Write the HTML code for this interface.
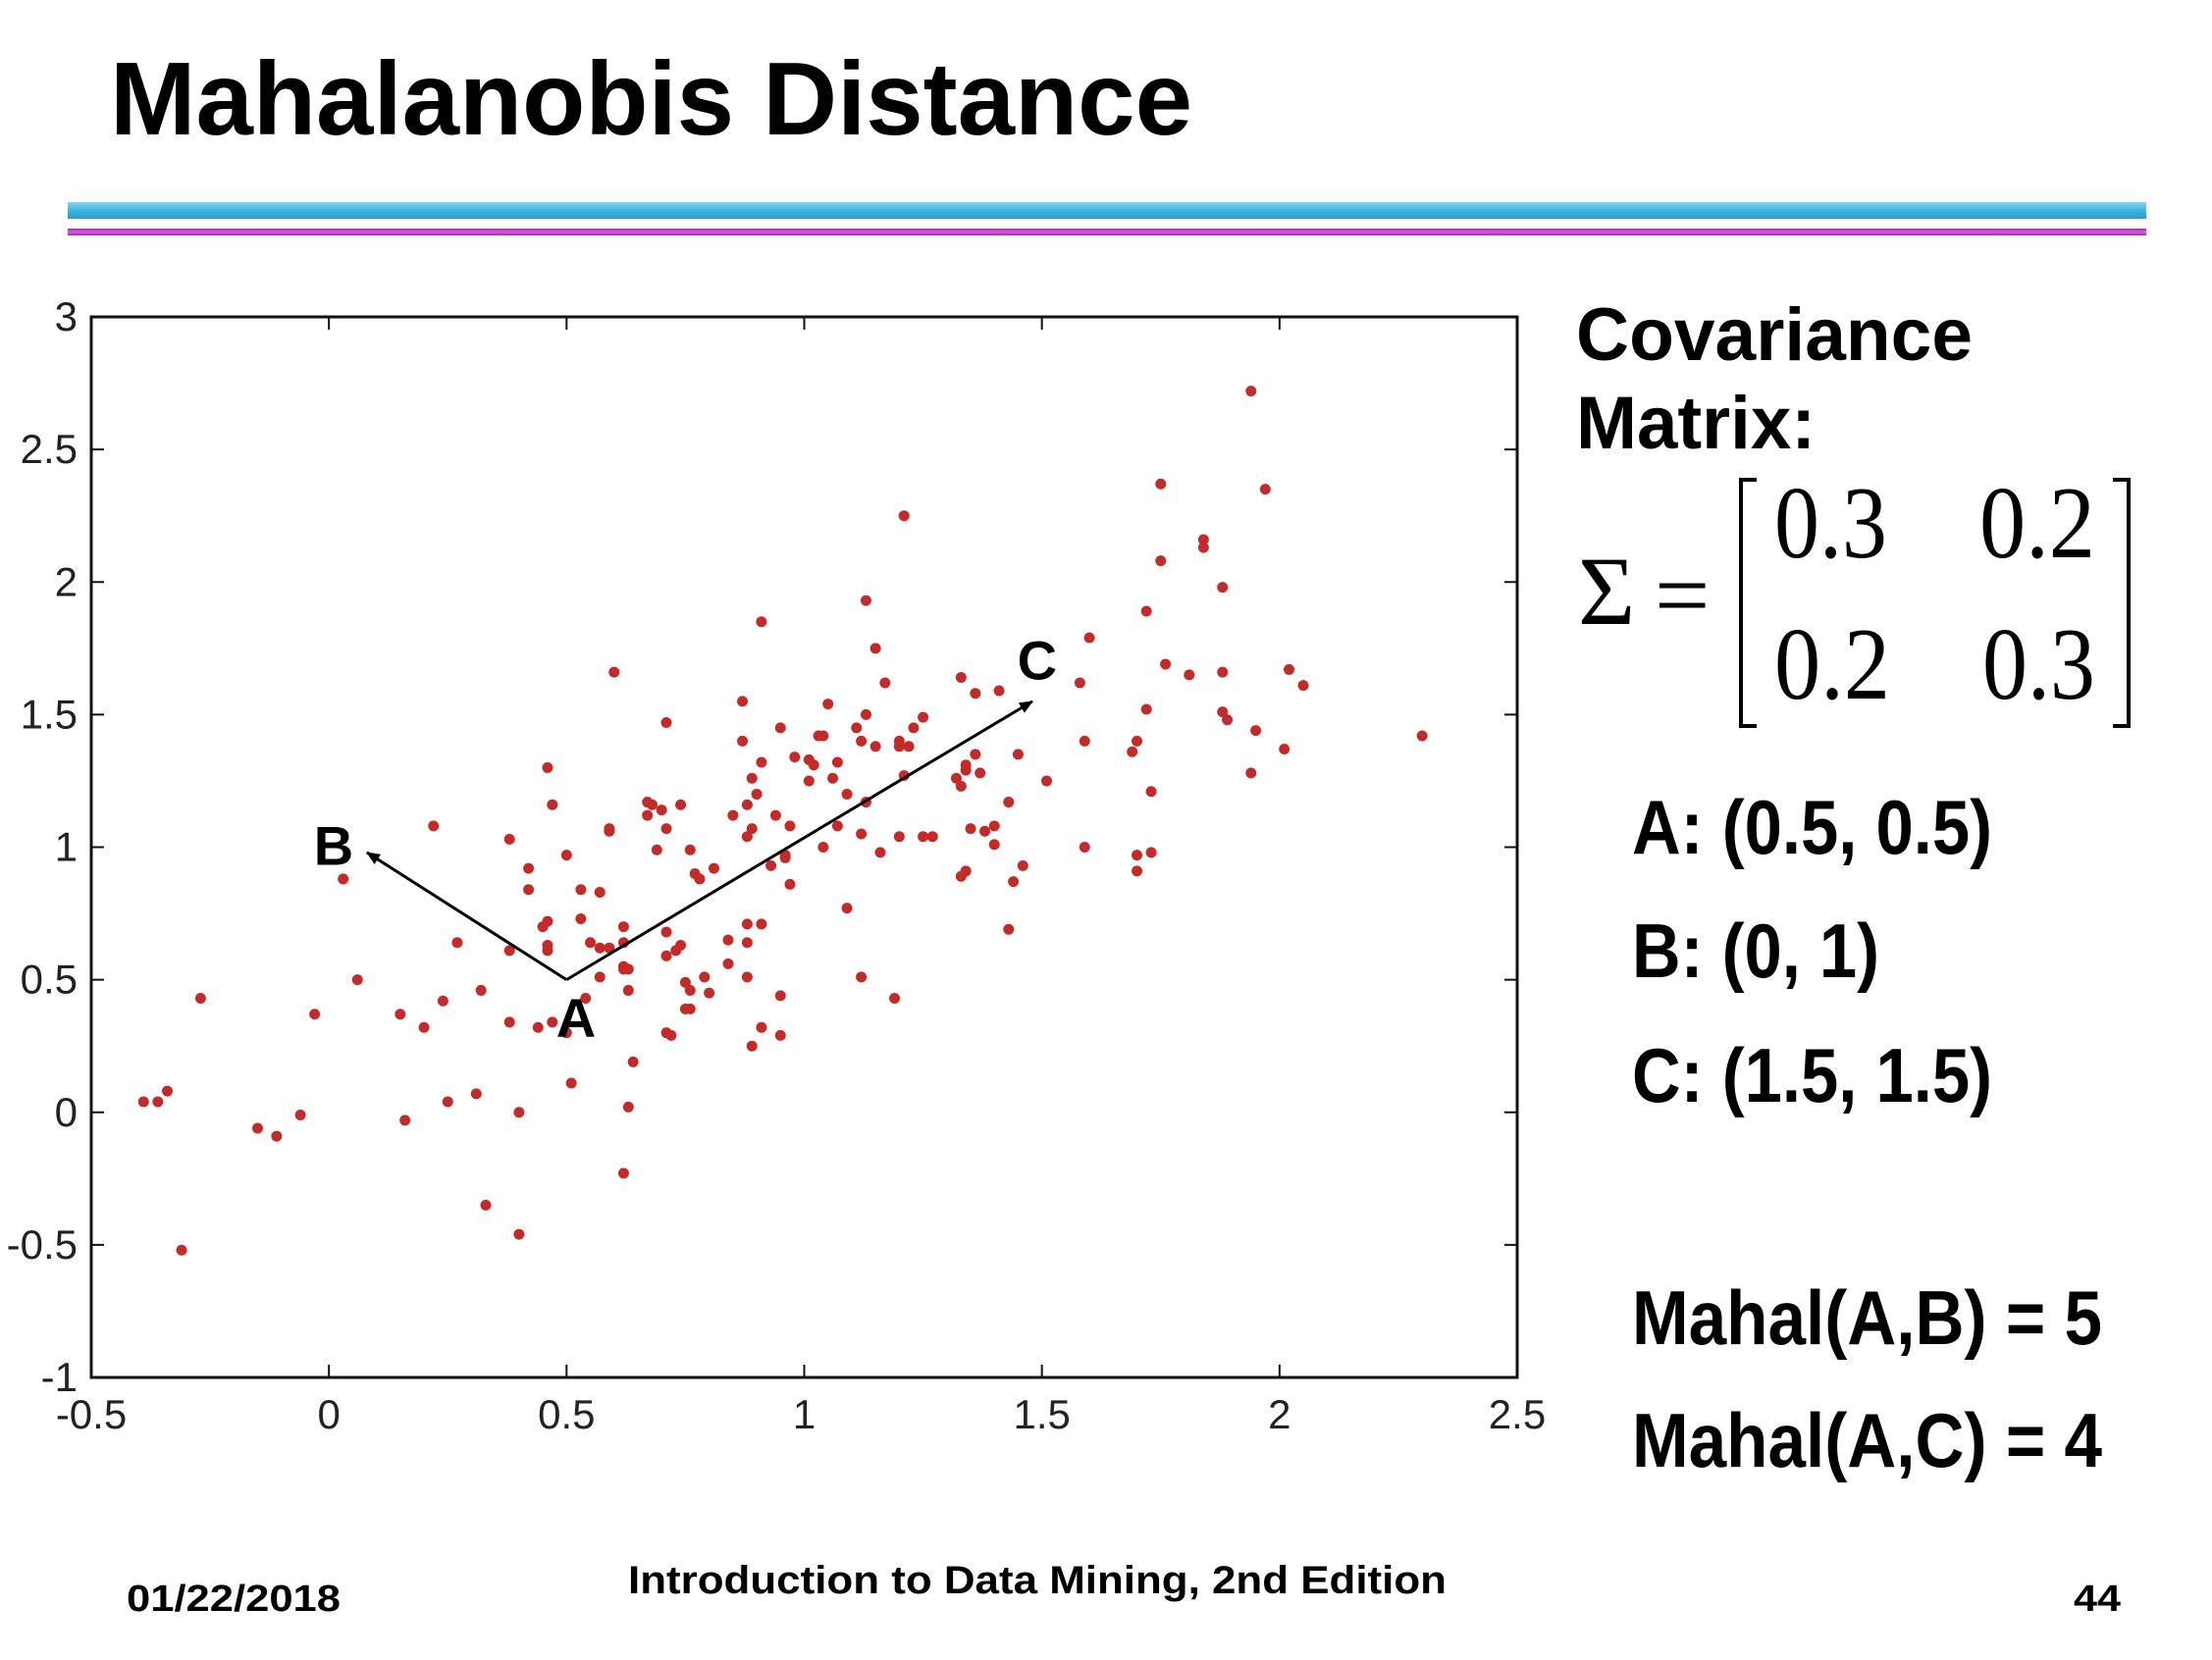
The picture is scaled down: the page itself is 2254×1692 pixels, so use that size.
<!DOCTYPE html>
<html><head><meta charset="utf-8"><style>
html,body{margin:0;padding:0;background:#fff;}
svg{display:block;}
.b{font-family:"Liberation Sans",Arial,sans-serif;font-weight:bold;fill:#000;}
.t{font-family:"Liberation Sans",Arial,sans-serif;fill:#222;font-size:42px;}
.s{font-family:"Liberation Serif","Times New Roman",serif;fill:#000;}
</style></head><body>
<svg id="slide" width="2254" height="1692" viewBox="0 0 2254 1692">
<defs>
<linearGradient id="cy" x1="0" y1="0" x2="0" y2="1"><stop offset="0" stop-color="#8ad4ef"/><stop offset="0.5" stop-color="#3cb4e0"/><stop offset="1" stop-color="#2a9ccc"/></linearGradient>
<linearGradient id="pu" x1="0" y1="0" x2="0" y2="1"><stop offset="0" stop-color="#a030a8"/><stop offset="0.5" stop-color="#e050e8"/><stop offset="1" stop-color="#a030a8"/></linearGradient>
<marker id="ah" markerWidth="14" markerHeight="12" refX="13" refY="6" orient="auto" markerUnits="userSpaceOnUse"><path d="M0,0 L14,6 L0,12 z" fill="#000"/></marker>
</defs>
<text class="b" x="112" y="137" font-size="106" textLength="1103" lengthAdjust="spacingAndGlyphs">Mahalanobis Distance</text>
<rect x="69" y="206" width="2118" height="17" fill="url(#cy)"/>
<rect x="69" y="233" width="2118" height="7" fill="url(#pu)"/>

<g id="chart"></g>

<text class="b" x="1606" y="367" font-size="76" textLength="404" lengthAdjust="spacingAndGlyphs">Covariance</text>
<text class="b" x="1606" y="457" font-size="76" textLength="244" lengthAdjust="spacingAndGlyphs">Matrix:</text>
<g>
<text class="s" x="1608" y="636" font-size="100">Σ</text>
<text class="s" x="1686" y="640" font-size="100">=</text>
<path d="M1790,489 H1774 V740 H1790" fill="none" stroke="#000" stroke-width="4"/>
<path d="M2153,489 H2169 V740 H2153" fill="none" stroke="#000" stroke-width="4"/>
<text class="s" x="1808" y="568" font-size="105" textLength="115" lengthAdjust="spacingAndGlyphs">0.3</text>
<text class="s" x="2017" y="568" font-size="105" textLength="118" lengthAdjust="spacingAndGlyphs">0.2</text>
<text class="s" x="1808" y="712" font-size="105" textLength="118" lengthAdjust="spacingAndGlyphs">0.2</text>
<text class="s" x="2020" y="712" font-size="105" textLength="115" lengthAdjust="spacingAndGlyphs">0.3</text>
</g>
<text class="b" x="1663" y="870" font-size="78" textLength="367" lengthAdjust="spacingAndGlyphs">A: (0.5, 0.5)</text>
<text class="b" x="1663" y="996" font-size="78" textLength="252" lengthAdjust="spacingAndGlyphs">B: (0, 1)</text>
<text class="b" x="1663" y="1123" font-size="78" textLength="367" lengthAdjust="spacingAndGlyphs">C: (1.5, 1.5)</text>
<text class="b" x="1663" y="1370" font-size="78" textLength="479" lengthAdjust="spacingAndGlyphs">Mahal(A,B) = 5</text>
<text class="b" x="1663" y="1495" font-size="78" textLength="479" lengthAdjust="spacingAndGlyphs">Mahal(A,C) = 4</text>

<text class="b" x="129" y="1642" font-size="38" textLength="218" lengthAdjust="spacingAndGlyphs">01/22/2018</text>
<text class="b" x="640" y="1624" font-size="40" textLength="834" lengthAdjust="spacingAndGlyphs">Introduction to Data Mining, 2nd Edition</text>
<text class="b" x="2113" y="1642" font-size="38" textLength="48" lengthAdjust="spacingAndGlyphs">44</text>
</svg>
<script>
const xs = [1.94,1.75,1.97,1.21,1.84,1.84,1.75,1.88,1.13,1.72,0.91,1.15,1.60,1.76,1.81,1.88,2.02,2.05,1.58,1.17,0.60,1.33,1.41,1.36,0.87,1.05,1.72,1.88,1.89,0.71,1.13,1.25,0.95,1.11,1.23,1.95,2.30,1.03,1.04,1.12,1.15,1.20,1.20,1.22,0.87,1.59,1.70,1.69,2.01,1.36,1.45,0.98,1.01,0.91,1.07,1.02,1.34,1.34,0.46,1.94,1.21,1.32,1.06,1.37,1.01,1.51,0.89,1.33,1.73,1.09,0.90,1.13,1.43,0.67,0.68,0.74,0.47,0.70,0.94,0.67,0.85,0.88,1.07,0.22,0.59,0.71,0.89,0.88,0.59,0.97,1.35,1.38,1.40,1.12,1.20,1.25,1.27,0.38,1.59,1.04,1.40,1.73,1.70,0.69,1.16,0.50,0.76,0.96,0.96,0.93,1.46,1.70,0.77,0.78,0.81,0.42,1.34,1.33,1.44,0.97,0.03,0.42,0.53,0.57,1.09,0.53,0.46,0.45,0.88,0.91,0.62,1.43,0.71,0.84,0.88,0.55,0.27,0.46,0.46,0.62,0.57,0.59,0.74,0.73,0.38,0.71,0.84,0.62,0.63,0.62,0.57,0.88,1.12,0.79,0.06,0.75,0.76,0.63,0.32,0.80,0.95,1.19,0.54,0.24,-0.27,0.75,0.76,-0.03,0.15,0.38,0.20,0.44,0.47,0.91,0.71,0.72,0.50,0.95,0.89,0.64,0.51,-0.34,-0.39,-0.36,0.31,0.25,0.63,0.40,-0.06,0.16,-0.15,-0.11,0.62,0.33,0.40,-0.31];
const ys = [2.72,2.37,2.35,2.25,2.16,2.13,2.08,1.98,1.93,1.89,1.85,1.75,1.79,1.69,1.65,1.66,1.67,1.61,1.62,1.62,1.66,1.64,1.59,1.58,1.55,1.54,1.52,1.51,1.48,1.47,1.50,1.49,1.45,1.45,1.45,1.44,1.42,1.42,1.42,1.40,1.38,1.40,1.38,1.38,1.40,1.40,1.40,1.36,1.37,1.35,1.35,1.34,1.33,1.32,1.32,1.31,1.31,1.29,1.30,1.28,1.27,1.26,1.26,1.28,1.25,1.25,1.26,1.23,1.21,1.20,1.20,1.17,1.17,1.17,1.16,1.16,1.16,1.14,1.12,1.12,1.12,1.16,1.08,1.08,1.07,1.07,1.07,1.04,1.06,1.08,1.07,1.06,1.08,1.05,1.04,1.04,1.04,1.03,1.00,1.00,1.01,0.98,0.97,0.99,0.98,0.97,0.99,0.97,0.96,0.93,0.93,0.91,0.90,0.88,0.92,0.92,0.91,0.89,0.87,0.86,0.88,0.84,0.84,0.83,0.77,0.73,0.72,0.70,0.71,0.71,0.70,0.69,0.68,0.65,0.64,0.64,0.64,0.63,0.61,0.64,0.62,0.62,0.63,0.61,0.61,0.59,0.56,0.55,0.54,0.54,0.51,0.51,0.51,0.51,0.50,0.49,0.46,0.46,0.46,0.45,0.44,0.43,0.43,0.42,0.43,0.39,0.39,0.37,0.37,0.34,0.32,0.32,0.34,0.32,0.30,0.29,0.30,0.29,0.25,0.19,0.11,0.08,0.04,0.04,0.07,0.04,0.02,0.00,-0.01,-0.03,-0.06,-0.09,-0.23,-0.35,-0.46,-0.52];
const xTicks = [-0.5,0,0.5,1,1.5,2,2.5];
const yTicks = [-1,-0.5,0,0.5,1,1.5,2,2.5,3];
const xTickLabels = ["-0.5","0","0.5","1","1.5","2","2.5"];
const yTickLabels = ["-1","-0.5","0","0.5","1","1.5","2","2.5","3"];
const arrowOrigin = [0.5,0.5];
const arrowTips = [[0.08,0.98],[1.48,1.55]];
const pointLabels = ["A","B","C"];
const labelPos = [[0.52,0.35],[0.01,1.0],[1.49,1.70]];

const L=93,R=1546,T=323,B=1404;
const xMin=-0.5,xMax=2.5,yMin=-1,yMax=3;
const sx=v=>L+(v-xMin)/(xMax-xMin)*(R-L);
const sy=v=>B-(v-yMin)/(yMax-yMin)*(B-T);
const NS="http://www.w3.org/2000/svg";
const g=document.getElementById('chart');
function mk(tag,attrs){const e=document.createElementNS(NS,tag);for(const k in attrs)e.setAttribute(k,attrs[k]);g.appendChild(e);return e;}

let e=mk('rect',{x:L,y:T,width:R-L,height:B-T,fill:'#fff',stroke:'#111','stroke-width':3});


xTicks.forEach((v,i)=>{
  const x=sx(v);
  let t=mk('path',{d:`M${x},${B} V${B-13} M${x},${T} V${T+13}`,stroke:'#111','stroke-width':2});
  
  
  let lb=mk('text',{x:x,y:1456,'text-anchor':'middle',class:'t'});
  lb.textContent=xTickLabels[i];
  
  
});
yTicks.forEach((v,i)=>{
  const y=sy(v);
  let t=mk('path',{d:`M${L},${y} H${L+13} M${R},${y} H${R-13}`,stroke:'#111','stroke-width':2});
  
  
  let lb=mk('text',{x:79,y:y+14,'text-anchor':'end',class:'t'});
  lb.textContent=yTickLabels[i];
  
  
});
xs.forEach((v,i)=>{
  let c=mk('circle',{cx:sx(v),cy:sy(ys[i]),r:5.5,fill:'#c42a28'});
  
  
});
arrowTips.forEach((p,i)=>{
  let a=mk('line',{x1:sx(arrowOrigin[0]),y1:sy(arrowOrigin[1]),x2:sx(p[0]),y2:sy(p[1]),stroke:'#000','stroke-width':3,'marker-end':'url(#ah)'});
  
  
});
pointLabels.forEach((s,i)=>{
  let t=mk('text',{x:sx(labelPos[i][0]),y:sy(labelPos[i][1])+18,'text-anchor':'middle',class:'b','font-size':56});
  t.textContent=s;
  
  
});
</script>
</body></html>
